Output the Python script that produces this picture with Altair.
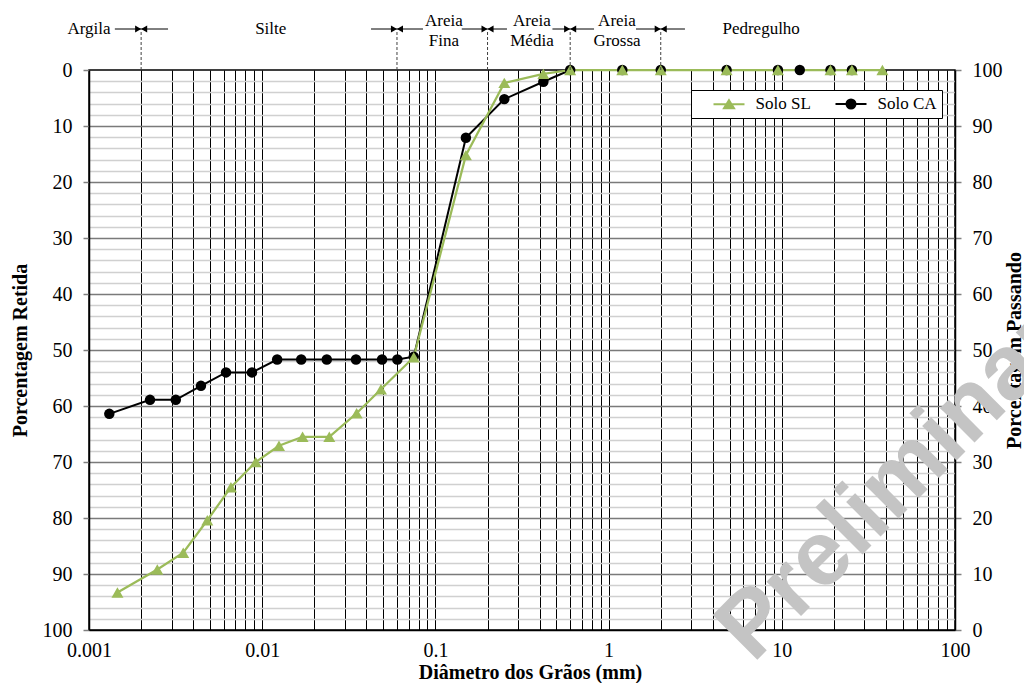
import altair as alt
import pandas as pd

FONT = "Liberation Serif"

# ---- data (diameter mm, percent passing) ----
series = ["Solo SL", "Solo CA"]
colors = ["#9BBB59", "#000000"]

sl_diam = [0.00146, 0.00248, 0.0035, 0.00482, 0.0066, 0.00917, 0.0125, 0.0171, 0.0244,
           0.0351, 0.0485, 0.075, 0.15, 0.25, 0.42, 0.6, 1.2, 2.0, 4.8, 9.5, 19.1, 25.4, 38.1]
sl_pass = [6.7, 10.8, 13.8, 19.6, 25.5, 30.0, 32.9, 34.5, 34.5, 38.7, 43.0, 48.7,
           84.8, 97.7, 99.3, 100, 100, 100, 100, 100, 100, 100, 100]

ca_diam = [0.00131, 0.00225, 0.00317, 0.00443, 0.00618, 0.00873, 0.0122, 0.0168, 0.0236,
           0.0348, 0.0492, 0.0603, 0.075, 0.15, 0.25, 0.42, 0.6, 1.2, 2.0, 4.8, 9.5, 12.7, 19.1, 25.4]
ca_pass = [38.6, 41.1, 41.1, 43.6, 46.0, 46.0, 48.3, 48.3, 48.3, 48.3, 48.3, 48.3, 48.8,
           87.9, 94.8, 97.9, 100, 100, 100, 100, 100, 100, 100, 100]

# axis ticks / grid
x_labels = [0.001, 0.01, 0.1, 1, 10, 100]
x_grid = [m * 10.0 ** k for k in range(-3, 2) for m in range(1, 10)] + [100]
y_grid = list(range(0, 101, 2))
y_major = list(range(0, 101, 10))

# particle-size class boundaries (mm) and arrow tails (mm)
bounds = [0.002, 0.06, 0.2, 0.6, 2.0]
left_tails = [0.00141, 0.0425, 0.142, 0.474, 1.44]
right_tails = [0.00286, 0.0848, 0.259, 0.824, 2.76]

single_labels = ["Argila", "Silte", "Pedregulho"]
single_x = [0.001, 0.0112, 7.6]
double_labels = ["Areia\nFina", "Areia\nMédia", "Areia\nGrossa"]
double_x = [0.112, 0.361, 1.118]

watermark = ["Preliminar"]

# ---- scales ----
xscale = alt.Scale(type="log", domain=[0.001, 100], nice=False)
yscale = alt.Scale(domain=[0, 100], nice=False, zero=False)

label_list = ",".join(str(v) for v in x_labels)
x_axis = alt.Axis(
    values=x_grid, grid=True, gridColor="#000000", gridWidth=1,
    ticks=False, tickSize=0, domain=True, domainColor="#000000", domainWidth=1.5,
    labelExpr=f"indexof([{label_list}], datum.value) >= 0 ? format(datum.value, '~g') : ''",
    labelFont=FONT, labelFontSize=20, labelColor="#000000", labelPadding=10,
    labelOverlap=False, labelFlush=False,
    title="Diâmetro dos Grãos (mm)", titleFont=FONT, titleFontSize=20,
    titleFontWeight="bold", titleColor="#000000", titlePadding=2.5, titleX=441,
)

y_left_axis = alt.Axis(
    orient="left", values=y_grid, grid=True,
    gridColor={"condition": {"test": "datum.value % 10 === 0", "value": "#7a7a7a"}, "value": "#d0d0d0"},
    gridOpacity={"condition": {"test": "datum.value === 0 || datum.value === 100", "value": 0}, "value": 1},
    gridWidth=1.5,
    tickColor="#808080", tickSize=6, tickWidth=1.5,
    tickOpacity={"condition": {"test": "datum.value % 10 !== 0", "value": 0}, "value": 1},
    domainColor="#000000", domainWidth=1.5,
    labelExpr="datum.value % 10 === 0 ? format(100 - datum.value, 'd') : ''",
    labelFont=FONT, labelFontSize=20, labelColor="#000000", labelPadding=11,
    labelOverlap=False, labelFlush=False,
    title="Porcentagem Retida", titleFont=FONT, titleFontSize=20,
    titleFontWeight="bold", titleColor="#000000", titlePadding=12,
)

y_right_axis = alt.Axis(
    orient="right", values=y_major, grid=False,
    tickColor="#808080", tickSize=6, tickWidth=1.5,
    domainColor="#000000", domainWidth=1.5,
    labelFont=FONT, labelFontSize=20, labelColor="#000000", labelPadding=11,
    labelOverlap=False, labelFlush=False,
    title="Porcentagem Passando", titleFont=FONT, titleFontSize=20,
    titleFontWeight="bold", titleColor="#000000", titlePadding=2,
    titleAngle=270, titleBaseline="top",
)

sl_df = pd.DataFrame({"d": sl_diam, "p": sl_pass})
ca_df = pd.DataFrame({"d": ca_diam, "p": ca_pass})
ann_df = pd.DataFrame({"b": bounds, "lt": left_tails, "rt": right_tails})
single_df = pd.DataFrame({"x": single_x, "label": single_labels})
double_df = pd.DataFrame({"x": double_x, "label": double_labels})
leg_df = pd.DataFrame({"serie": series})
wm_df = pd.DataFrame({"t": watermark})


def X(field):
    return alt.X(field, type="quantitative", scale=xscale, axis=x_axis)


def Y(field, axis=None):
    return alt.Y(field, type="quantitative", scale=yscale, axis=axis)


# ---- data layers ----
ca_line = alt.Chart(ca_df).mark_line(color=colors[1], strokeWidth=2).encode(
    x=X("d"), y=Y("p", y_left_axis))
sl_line = alt.Chart(sl_df).mark_line(color=colors[0], strokeWidth=2.25).encode(
    x=X("d"), y=Y("p", y_right_axis))
ca_pts = alt.Chart(ca_df).mark_point(shape="circle", filled=True, size=110, color=colors[1], opacity=1).encode(
    x=X("d"), y=Y("p"))
sl_pts = alt.Chart(sl_df).mark_point(shape="triangle-up", filled=True, size=144, color=colors[0], opacity=1).encode(
    x=X("d"), y=Y("p"))

# ---- class annotations above the plot ----
dashes = alt.Chart(ann_df).mark_rule(strokeDash=[3, 2], color="#404040", strokeWidth=1).encode(
    x=X("b"), y=alt.value(-38), y2=alt.value(0))
shaft_l = alt.Chart(ann_df).mark_rule(color="#000000", strokeWidth=1).encode(
    x=X("lt"), x2="b:Q", y=alt.value(-41))
shaft_r = alt.Chart(ann_df).mark_rule(color="#000000", strokeWidth=1).encode(
    x=X("b"), x2="rt:Q", y=alt.value(-41))
head_r = alt.Chart(ann_df).mark_point(shape="triangle-right", filled=True, size=49, color="#000000",
                                      opacity=1, xOffset=-3).encode(x=X("b"), y=alt.value(-41))
head_l = alt.Chart(ann_df).mark_point(shape="triangle-left", filled=True, size=49, color="#000000",
                                      opacity=1, xOffset=3).encode(x=X("b"), y=alt.value(-41))
txt1 = alt.Chart(single_df).mark_text(font=FONT, fontSize=17, color="#000000", align="center",
                                      baseline="middle").encode(x=X("x"), y=alt.value(-41), text="label:N")
txt2 = alt.Chart(double_df).mark_text(font=FONT, fontSize=17, color="#000000", align="center",
                                      baseline="middle", lineBreak="\n", lineHeight=20).encode(
    x=X("x"), y=alt.value(-49), text="label:N")

# ---- legend (line + marker symbols) ----
legend_paths = [
    "M-2.214,0L2.214,0M0,-0.571L0.714,0.571L-0.714,0.571Z",
    "M-2.214,0L2.214,0M-0.643,0A0.643,0.643 0 1,0 0.643,0A0.643,0.643 0 1,0 -0.643,0Z",
]
leg = alt.Legend(
    orient="none", legendX=602, legendY=20, direction="horizontal", title=None,
    padding=5, strokeColor="#000000", fillColor="#ffffff",
    symbolSize=196, symbolStrokeWidth=2, symbolOffset=24.5, symbolOpacity=1,
    labelOffset=18, columnPadding=7,
    labelFont=FONT, labelFontSize=17, labelColor="#000000",
)
legend_layer = alt.Chart(leg_df).mark_point(opacity=0, size=196, strokeWidth=2).encode(
    fill=alt.Fill("serie:N", scale=alt.Scale(domain=series, range=colors), legend=leg),
    stroke=alt.Stroke("serie:N", scale=alt.Scale(domain=series, range=colors), legend=leg),
    shape=alt.Shape("serie:N", scale=alt.Scale(domain=series, range=legend_paths), legend=leg),
)

# ---- watermark ----
wm = alt.Chart(wm_df).mark_text(angle=315, align="left", baseline="alphabetic",
                                font="Liberation Sans", fontSize=92, fontWeight="bold",
                                color="#c4c4c4").encode(
    x=alt.value(664), y=alt.value(594), text="t:N")

chart = alt.layer(
    ca_line, sl_line, ca_pts, sl_pts,
    dashes, shaft_l, shaft_r, head_r, head_l, txt1, txt2,
    legend_layer, wm,
).resolve_axis(y="independent").properties(
    width=866, height=560,
    padding={"left": 81, "top": 62, "right": 69, "bottom": 53},
    autosize=alt.AutoSizeParams(type="none"),
    background="#ffffff",
).configure_view(stroke="#000000", strokeWidth=1.5).configure_legend(
    labelFont=FONT, labelFontSize=17, labelColor="#000000",
    symbolStrokeWidth=2, symbolOpacity=1,
)

chart.save("out.html", embed_options={"renderer": "svg", "actions": False})
